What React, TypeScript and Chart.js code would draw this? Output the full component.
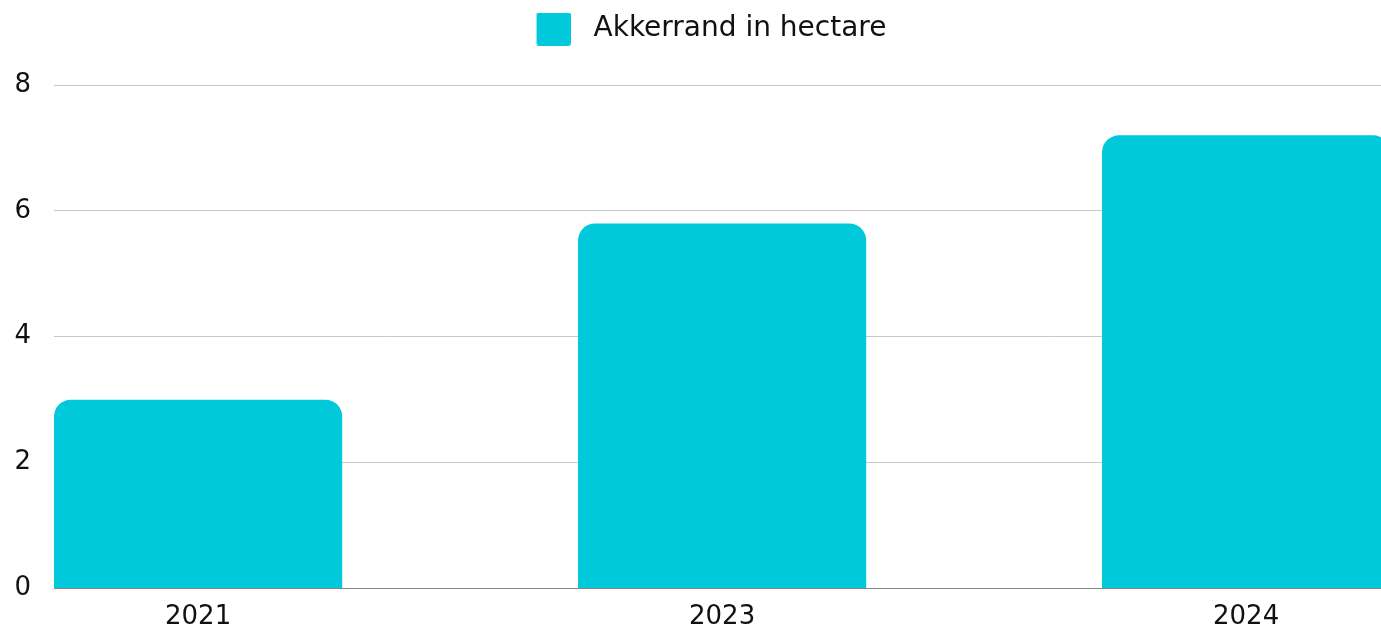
import React, { useEffect, useRef } from 'react';
import { Chart, registerables } from 'chart.js';

Chart.register(...registerables);

const years = ['2021', '2023', '2024'];
const hectares = [3.0, 5.8, 7.2];
const yMin = 0;
const yMax = 8;
const yStep = 2;
const seriesLabel = 'Akkerrand in hectare';

const FONT = "'DejaVu Sans', sans-serif";
const BAR_COLOR = '#00C9DB';

const legendSpacer = {
  id: 'legendSpacer',
  beforeInit(chart: any) {
    const orig = chart.legend.fit;
    chart.legend.fit = function fit() {
      orig.bind(chart.legend)();
      this.height += 32;
    };
  },
};

// legend swatch: 34x33 rounded square drawn at the right of a transparent canvas
function makeLegendSwatch(): HTMLCanvasElement {
  const c = document.createElement('canvas');
  c.width = 53;
  c.height = 33;
  const ctx = c.getContext('2d')!;
  ctx.fillStyle = BAR_COLOR;
  ctx.beginPath();
  (ctx as any).roundRect(53 - 34, 0, 34, 33, 2);
  ctx.fill();
  return c;
}

export default function App() {
  const ref = useRef<HTMLCanvasElement>(null);
  useEffect(() => {
    if (!ref.current) return;
    const swatch = makeLegendSwatch();
    const chart = new Chart(ref.current, {
      type: 'bar',
      data: {
        datasets: [
          {
            label: seriesLabel,
            data: years.map((_, i) => ({ x: i, y: hectares[i] })),
            backgroundColor: BAR_COLOR,
            borderRadius: 17,
            borderSkipped: 'bottom',
            categoryPercentage: 1,
            barPercentage: 0.55,
          } as any,
        ],
      },
      plugins: [legendSpacer],
      options: {
        animation: false,
        responsive: false,
        maintainAspectRatio: false,
        layout: { padding: { left: 14, right: 0, top: 0, bottom: 0 } },
        plugins: {
          legend: {
            position: 'top',
            labels: {
              font: { family: FONT, size: 28 },
              color: '#111',
              usePointStyle: true,
              pointStyle: swatch as any,
              pointStyleWidth: 71,
              boxHeight: 28,
              padding: 15,
            },
          },
          tooltip: { enabled: false },
        },
        scales: {
          x: {
            type: 'linear',
            offset: false,
            min: -0.275,
            max: 2.2574,
            afterBuildTicks: (s: any) => {
              s.ticks = years.map((_, i) => ({ value: i }));
            },
            afterFit: (s: any) => {
              s.paddingLeft = 0;
              s.paddingRight = 0;
              s.height = 38;
            },
            ticks: {
              callback: (v: any) => years[v as number] ?? '',
              font: { family: FONT, size: 26 },
              color: '#111',
              autoSkip: false,
              maxRotation: 0,
              padding: 5,
            },
            grid: { display: false },
            border: { display: true, color: '#888', width: 1 },
          },
          y: {
            min: yMin,
            max: yMax,
            afterFit: (s: any) => {
              s.width = 40;
            },
            ticks: {
              stepSize: yStep,
              font: { family: FONT, size: 26 },
              color: '#111',
              padding: 23,
            },
            grid: { color: '#c8c8c8', drawTicks: false, lineWidth: 1 },
            border: { display: false },
          },
        },
      },
    });
    return () => chart.destroy();
  }, []);
  return (
    <div style={{ position: 'fixed', left: 0, top: 0, width: 1381, height: 627, background: '#fff' }}>
      <canvas ref={ref} width={1381} height={627} />
    </div>
  );
}
